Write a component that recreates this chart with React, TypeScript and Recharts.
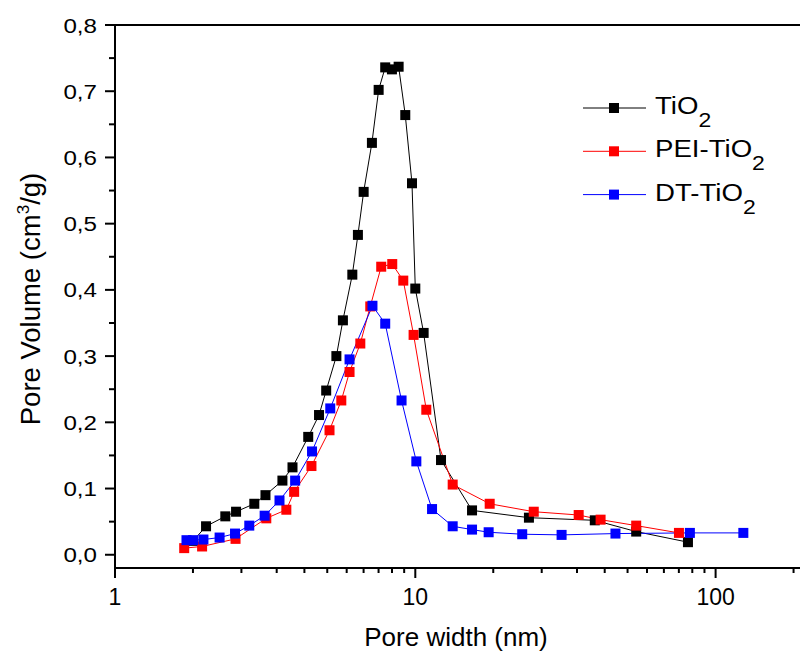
import React from 'react';
import { LineChart, Line, XAxis, YAxis, Legend, ReferenceLine } from 'recharts';

// pore width (nm) and pore volume (cm3/g)
const tio2X = [1.82, 2.01, 2.33, 2.53, 2.91, 3.17, 3.61, 3.9, 4.4, 4.78, 5.05, 5.46, 5.74, 6.17, 6.44, 6.73, 7.17, 7.55, 7.94, 8.36, 8.8, 9.26, 9.75, 10.0, 10.66, 12.18, 15.45, 23.9, 39.6, 54.4, 80.9];
const tio2Y = [0.021, 0.043, 0.058, 0.065, 0.077, 0.09, 0.112, 0.132, 0.178, 0.211, 0.248, 0.3, 0.354, 0.423, 0.483, 0.548, 0.622, 0.702, 0.736, 0.733, 0.737, 0.664, 0.561, 0.402, 0.335, 0.143, 0.067, 0.056, 0.052, 0.035, 0.019];

const peiX = [1.7, 1.95, 2.52, 3.19, 3.72, 3.95, 4.51, 5.18, 5.67, 6.04, 6.56, 7.08, 7.7, 8.38, 9.12, 9.87, 10.88, 13.32, 17.69, 24.8, 35.0, 41.4, 54.4, 75.5];
const peiY = [0.01, 0.0125, 0.024, 0.055, 0.068, 0.095, 0.134, 0.188, 0.233, 0.276, 0.319, 0.375, 0.435, 0.439, 0.414, 0.332, 0.219, 0.106, 0.077, 0.065, 0.06, 0.053, 0.044, 0.033];

const dtX = [1.73, 1.82, 1.97, 2.23, 2.51, 2.8, 3.15, 3.53, 3.98, 4.53, 5.21, 6.04, 7.2, 7.94, 9.0, 10.08, 11.37, 13.32, 15.45, 17.55, 22.7, 30.7, 46.4, 82.1, 123.7];
const dtY = [0.022, 0.022, 0.023, 0.026, 0.032, 0.044, 0.059, 0.082, 0.112, 0.156, 0.221, 0.295, 0.376, 0.349, 0.233, 0.141, 0.069, 0.043, 0.038, 0.034, 0.031, 0.03, 0.032, 0.033, 0.033];

const seriesNames = ['TiO', 'PEI-TiO', 'DT-TiO'];
const seriesColors = ['#000000', '#ff0000', '#0000ff'];

// axis ticks (Origin puts 10 evenly spaced minor ticks in each decade)
const xMajorTicks = [1, 10, 100];
const xMinorTicks = [1.818, 2.636, 3.455, 4.273, 5.091, 5.909, 6.727, 7.545, 8.364, 9.182, 18.18, 26.36, 34.55, 42.73, 50.91, 59.09, 67.27, 75.45, 83.64, 91.82, 181.8];
const yMajorTicks = [0, 0.1, 0.2, 0.3, 0.4, 0.5, 0.6, 0.7, 0.8];
const yMinorTicks = [0.05, 0.15, 0.25, 0.35, 0.45, 0.55, 0.65, 0.75];

const zip = (xs: number[], ys: number[]) => xs.map((x, i) => ({ x, y: ys[i] }));
const seriesData = [zip(tio2X, tio2Y), zip(peiX, peiY), zip(dtX, dtY)];

const FONT = '"Liberation Sans", Arial, sans-serif';

const squareDot = (color: string) => (props: any) => {
  const { cx, cy, index } = props;
  if (cx == null || cy == null) return <g key={index} />;
  return <rect key={index} x={cx - 5} y={cy - 5} width={10} height={10} fill={color} />;
};

const XTick = (props: any) => {
  const { x, y, payload } = props;
  const major = xMajorTicks.includes(payload.value);
  return (
    <g>
      <line x1={x} x2={x} y1={y} y2={y + (major ? 10 : 5)} stroke="#000" strokeWidth={2} />
      {major && (
        <text x={x} y={y + 37} textAnchor="middle" fontSize={23} fontFamily={FONT} fill="#000">
          {payload.value}
        </text>
      )}
    </g>
  );
};

const YTick = (props: any) => {
  const { x, y, payload } = props;
  const v = payload.value;
  const major = yMajorTicks.some((t) => Math.abs(t - v) < 1e-6);
  return (
    <g>
      <line x1={x - (major ? 10 : 6)} x2={x} y1={y} y2={y} stroke="#000" strokeWidth={2} />
      {major && (
        <text
          transform={`translate(${x - 18},${y + 7.5}) scale(1.15,1)`}
          textAnchor="end"
          fontSize={21}
          fontFamily={FONT}
          fill="#000"
        >
          {v.toFixed(1).replace('.', ',')}
        </text>
      )}
    </g>
  );
};

const renderLegend = () => (
  <svg width={225} height={140}>
    {seriesNames.map((name, i) => {
      const cy = 23 + i * 43.3;
      return (
        <g key={name}>
          <line x1={8} x2={71} y1={cy} y2={cy} stroke={seriesColors[i]} strokeWidth={1} />
          <rect x={34} y={cy - 5} width={10} height={10} fill={seriesColors[i]} />
          <text
            transform={`translate(80,${cy + 6}) scale(1.15,1)`}
            fontSize={24}
            fontFamily={FONT}
            fill="#000"
          >
            {name}
            <tspan fontSize={20} dy={13}>2</tspan>
          </text>
        </g>
      );
    })}
  </svg>
);

export default function App() {
  return (
    <div
      style={{
        position: 'absolute',
        left: 0,
        top: 0,
        width: 800,
        height: 655,
        overflow: 'hidden',
        background: '#fff',
      }}
    >
      <LineChart width={806} height={655} margin={{ top: 25, right: 0, left: 0, bottom: 0 }}>
        <XAxis
          dataKey="x"
          type="number"
          scale="log"
          domain={[1, 200]}
          ticks={[...xMajorTicks, ...xMinorTicks].sort((a, b) => a - b)}
          interval={0}
          height={87}
          tickSize={0}
          tickMargin={0}
          tickLine={false}
          tick={<XTick />}
          axisLine={{ stroke: '#000', strokeWidth: 2 }}
          allowDataOverflow
          label={{
            content: () => (
              <text x={456} y={646} textAnchor="middle" fontSize={26} fontFamily={FONT} fill="#000">
                Pore width (nm)
              </text>
            ),
          }}
        />
        <YAxis
          type="number"
          domain={[-0.02, 0.8]}
          ticks={[...yMajorTicks, ...yMinorTicks].sort((a, b) => a - b)}
          interval={0}
          width={115}
          tickSize={0}
          tickMargin={0}
          tickLine={false}
          tick={<YTick />}
          axisLine={{ stroke: '#000', strokeWidth: 2 }}
          allowDataOverflow
          label={{
            content: () => (
              <text
                x={40}
                y={299}
                transform="rotate(-90, 40, 299)"
                textAnchor="middle"
                fontSize={27.5}
                fontFamily={FONT}
                fill="#000"
              >
                Pore Volume (cm
                <tspan fontSize={17} dy={-11}>3</tspan>
                <tspan dy={11}>/g)</tspan>
              </text>
            ),
          }}
        />
        <ReferenceLine y={0.8} stroke="#000" strokeWidth={2} />
        {seriesData.map((data, i) => (
          <Line
            key={seriesNames[i]}
            data={data}
            dataKey="y"
            type="linear"
            stroke={seriesColors[i]}
            strokeWidth={1}
            dot={squareDot(seriesColors[i])}
            activeDot={false}
            name={seriesNames[i]}
            isAnimationActive={false}
          />
        ))}
        <Legend
          layout="vertical"
          align="center"
          verticalAlign="middle"
          content={renderLegend}
          wrapperStyle={{ left: 575, top: 85, width: 225, height: 140 }}
        />
      </LineChart>
    </div>
  );
}
